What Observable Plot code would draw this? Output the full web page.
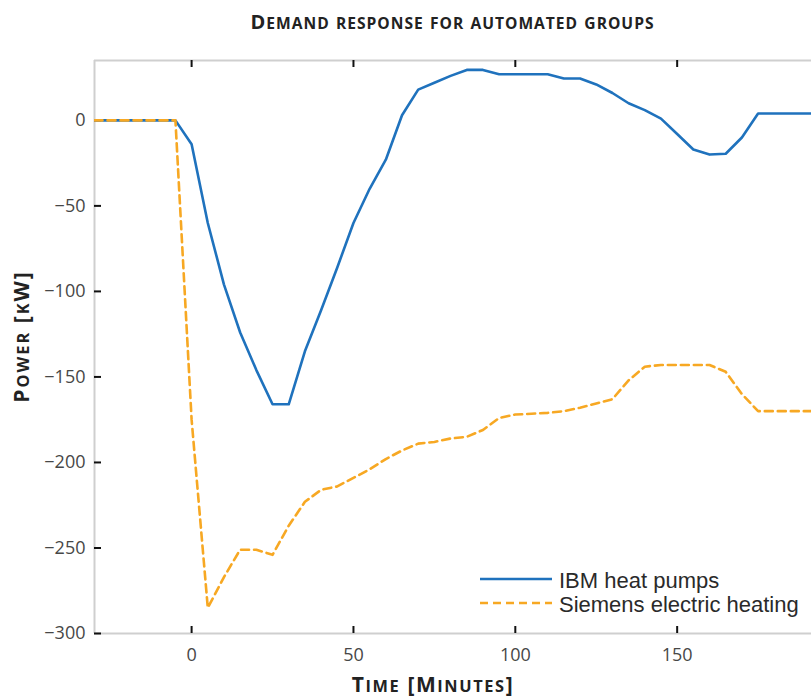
<!DOCTYPE html>
<html>
<head>
<meta charset="utf-8">
<script src="https://cdn.jsdelivr.net/npm/d3@7"></script>
<script src="https://cdn.jsdelivr.net/npm/@observablehq/plot@0.6"></script>
<style>
  body { margin: 0; background: #fff; overflow: hidden; }
  #wrap { position: relative; width: 811px; height: 700px; }
  .ttl { position: absolute; font-family: "Open Sans", sans-serif; font-weight: 700;
         color: #222; line-height: 1; white-space: nowrap; text-align: center; }
  .ttl .sc { font-size: 0.78em; text-transform: uppercase; }
  #title { top: 12px; left: 94px; width: 717px; font-size: 20px; letter-spacing: 1px; }
  #xlabel { top: 674px; left: 283px; width: 300px; font-size: 21px; letter-spacing: 1.6px; }
  #ylabel { top: 326px; left: -129px; width: 300px; font-size: 21px; letter-spacing: 2px;
            transform: rotate(-90deg); transform-origin: 50% 50%; }
  #chart { position: absolute; top: 45px; left: 0; }
  #legend { position: absolute; left: 480px; top: 567px; font-family: "Liberation Sans", Arial, sans-serif;
            font-size: 22px; color: #2a2a2a; }
  .row { display: flex; align-items: center; height: 24px; }
  .row span { margin-left: 7px; position: relative; top: 2px; white-space: nowrap; }
</style>
</head>
<body>
<div id="wrap">
  <div id="title" class="ttl"></div>
  <div id="chart"></div>
  <div id="ylabel" class="ttl"></div>
  <div id="xlabel" class="ttl"></div>
  <div id="legend"></div>
</div>
<script>
// ---- data ----
const time = [-30, -25, -20, -15, -10, -5, 0, 5, 10, 15, 20, 25, 30, 35, 40, 45, 50, 55, 60, 65, 70, 75, 80, 85, 90, 95,
  100, 105, 110, 115, 120, 125, 130, 135, 140, 145, 150, 155, 160, 165, 170, 175, 180, 185, 190, 195];
const ibmHeatPumps = [0, 0, 0, 0, 0, 0, -14, -60, -96, -124, -146, -166, -166, -135, -111, -86, -60, -40, -23, 3, 18, 22, 26, 29.5, 29.5, 27,
  27, 27, 27, 24.5, 24.5, 21, 16, 10, 6, 1, -8, -17, -20, -19.5, -10, 4, 4, 4, 4, 4];
const siemensHeating = [0, 0, 0, 0, 0, 0, -175, -285, -267, -251, -251, -254, -237, -223, -216, -214, -209, -204, -198, -193, -189, -188, -186, -185, -181, -174,
  -172, -171.5, -171, -170, -168, -165.5, -163, -152, -144, -143, -143, -143, -143, -147, -160, -170, -170, -170, -170, -170];
const seriesNames = ["IBM heat pumps", "Siemens electric heating"];
const seriesColors = ["#1f72bd", "#f7a823"];
const xTicks = [0, 50, 100, 150];
const yTicks = [-300, -250, -200, -150, -100, -50, 0];
const xDomain = [-30, 191.5];
const yDomain = [-300, 35];
const titleText = "Demand response for automated groups";
const xLabelText = "Time [Minutes]";
const yLabelText = "Power [kW]";

// small-caps helper: uppercase letters full size, lowercase shown as smaller capitals
function smallCaps(sel, text) {
  const el = d3.select(sel);
  text.split(/([a-z]+)/).forEach(part => {
    if (!part) return;
    if (/^[a-z]+$/.test(part)) el.append("span").attr("class", "sc").text(part);
    else el.append("span").text(part);
  });
}
smallCaps("#title", titleText);
smallCaps("#xlabel", xLabelText);
smallCaps("#ylabel", yLabelText);

// ---- build ----
const W = 811, H = 625, mT = 15, mB = 37, mL = 94, mR = 0;
const ibmRows = time.map((t, i) => ({t, v: ibmHeatPumps[i]}));
const siemensRows = time.map((t, i) => ({t, v: siemensHeating[i]}));

const plot = Plot.plot({
  width: W, height: H,
  marginTop: mT, marginBottom: mB, marginLeft: mL, marginRight: mR,
  x: {domain: xDomain},
  y: {domain: yDomain},
  style: {fontFamily: "'Open Sans', sans-serif", fontSize: "18px", color: "#474747", background: "transparent", overflow: "hidden"},
  marks: [
    // frame (left, top, bottom)
    Plot.ruleX([xDomain[0]], {stroke: "#cfcfcf", strokeWidth: 2}),
    Plot.ruleY(yDomain, {stroke: "#cfcfcf", strokeWidth: 2}),
    // inward ticks (drawn as short rules inset from the frame)
    Plot.tickX(xTicks, {x: d => d, stroke: "#111", strokeWidth: 2, insetTop: H - mT - mB - 7}),
    Plot.tickX(xTicks, {x: d => d, stroke: "#111", strokeWidth: 2, insetBottom: H - mT - mB - 7}),
    Plot.tickY(yTicks, {y: d => d, stroke: "#111", strokeWidth: 2, insetRight: W - mL - mR - 7}),
    // tick labels
    Plot.axisX(xTicks, {anchor: "bottom", tickSize: 0, tickPadding: 15, label: null}),
    Plot.axisY(yTicks, {anchor: "left", tickSize: 0, tickPadding: 9, label: null}),
    // series
    Plot.line(ibmRows, {x: "t", y: "v", stroke: seriesColors[0], strokeWidth: 2.6, clip: true}),
    Plot.line(siemensRows, {x: "t", y: "v", stroke: seriesColors[1], strokeWidth: 2.6, strokeDasharray: "8,5", clip: true})
  ]
});
document.getElementById("chart").appendChild(plot);

// legend
const legend = d3.select("#legend");
seriesNames.forEach((name, i) => {
  const row = legend.append("div").attr("class", "row");
  const s = row.append("svg").attr("width", 72).attr("height", 6);
  s.append("line").attr("x1", 0).attr("x2", 72).attr("y1", 3).attr("y2", 3)
    .attr("stroke", seriesColors[i]).attr("stroke-width", 2.6)
    .attr("stroke-dasharray", i === 1 ? "8,5" : null);
  row.append("span").text(name);
});
</script>
</body>
</html>
